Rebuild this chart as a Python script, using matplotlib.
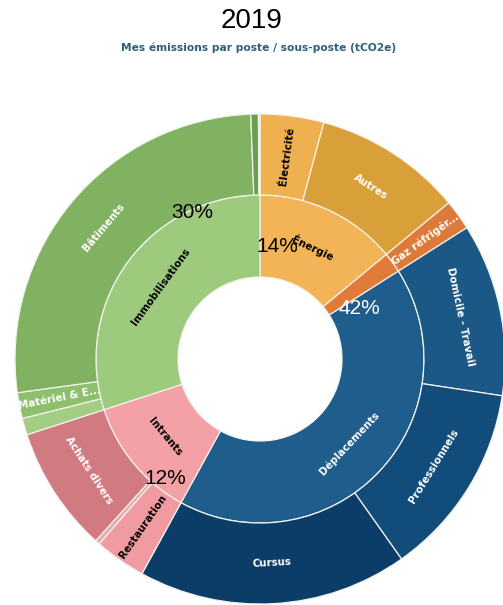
import numpy as np
import matplotlib
matplotlib.use("Agg")
import matplotlib.pyplot as plt
from matplotlib.colors import to_rgb

# postes (inner ring), clockwise from 12 o'clock
postes = ["Énergie", "", "Déplacements", "Intrants", "Immobilisations"]
postes_pct = [14, 2, 42, 12, 30]
postes_colors = ["#f2b457", "#e07b39", "#1f5d8c", "#f3a0a6", "#9dca7c"]

# sous-postes (outer ring)
sous_postes = ["Électricité", "Autres", "Gaz réfrigér...",
               "Domicile - Travail", "Professionnels", "Cursus",
               "Restauration", "", "Achats divers",
               "", "Matériel & E...", "Bâtiments", "", ""]
sous_postes_pct = [4.2, 9.8, 2.0,
                   11.4, 12.8, 17.8,
                   3.4, 0.3, 8.3,
                   1.1, 1.7, 26.6, 0.5, 0.1]
sous_postes_colors = ["#efb04f", "#d9a03a", "#dd7a3a",
                      "#1c5886", "#124c7a", "#0c3d68",
                      "#f09ba2", "#eaa9ad", "#d27a82",
                      "#a2cd82", "#8dbf6c", "#80b262", "#6a9e50", "#c8d8e8"]

# big percentage labels
pct_labels = ["30%", "14%", "42%", "12%"]
pct_colors = ["black", "black", "white", "black"]
pct_offsets = [(-68, 147), (17, 112), (99, 50), (-95, -119)]  # px from centre

W, H = 503, 605
cx, cy = 260, H - 359
r_hole, r_in, r_out = 82, 164, 245
ring = r_in - r_hole

fig = plt.figure(figsize=(W / 100, H / 100), dpi=100)
ax = fig.add_axes([0, 0, 1, 1])

edge = dict(edgecolor="#f2f2ea", linewidth=0.9)
w_in, _ = ax.pie(postes_pct, radius=r_in, colors=postes_colors, startangle=90,
                 counterclock=False, center=(cx, cy),
                 wedgeprops=dict(width=ring, **edge))
w_out, _ = ax.pie(sous_postes_pct, radius=r_out, colors=sous_postes_colors,
                  startangle=90, counterclock=False, center=(cx, cy),
                  wedgeprops=dict(width=r_out - r_in, **edge))

ax.set_xlim(0, W)
ax.set_ylim(0, H)
ax.set_aspect("auto")
ax.axis("off")


def text_color(c):
    r, g, b = to_rgb(c)
    lum = (0.299 * r + 0.587 * g + 0.114 * b) * 255
    return "black" if lum > 170 else "white"


def norm(a):
    a = (a + 180) % 360 - 180
    if a > 90:
        a -= 180
    elif a <= -90:
        a += 180
    return a


def label_ring(wedges, names, colors, r0, r1):
    rm = (r0 + r1) / 2
    for w, name, col in zip(wedges, names, colors):
        if not name:
            continue
        mid = (w.theta1 + w.theta2) / 2
        span = np.radians(abs(w.theta2 - w.theta1)) * rm
        x = cx + rm * np.cos(np.radians(mid))
        y = cy + rm * np.sin(np.radians(mid))
        rot = norm(mid - 90) if span > (r1 - r0) else norm(mid)
        ax.text(x, y, name, rotation=rot, rotation_mode="anchor",
                ha="center", va="center", fontsize=7.4, fontweight="bold",
                family="DejaVu Sans", color=text_color(col))


label_ring(w_in, postes, postes_colors, r_hole, r_in)
label_ring(w_out, sous_postes, sous_postes_colors, r_in, r_out)

for lab, col, (dx, dy) in zip(pct_labels, pct_colors, pct_offsets):
    ax.text(cx + dx, cy + dy, lab, ha="center", va="center", fontsize=15,
            family="Liberation Sans", color=col)

fig.text(0.5, 1 - 21 / H, "2019", ha="center", va="center", fontsize=20,
         family="Liberation Sans")
fig.text(0.515, 1 - 48 / H, "Mes émissions par poste / sous-poste (tCO2e)",
         ha="center", va="center", fontsize=7.7, fontweight="bold",
         family="DejaVu Sans", color="#2f5f7c")

fig.savefig("out.png", dpi=100)
